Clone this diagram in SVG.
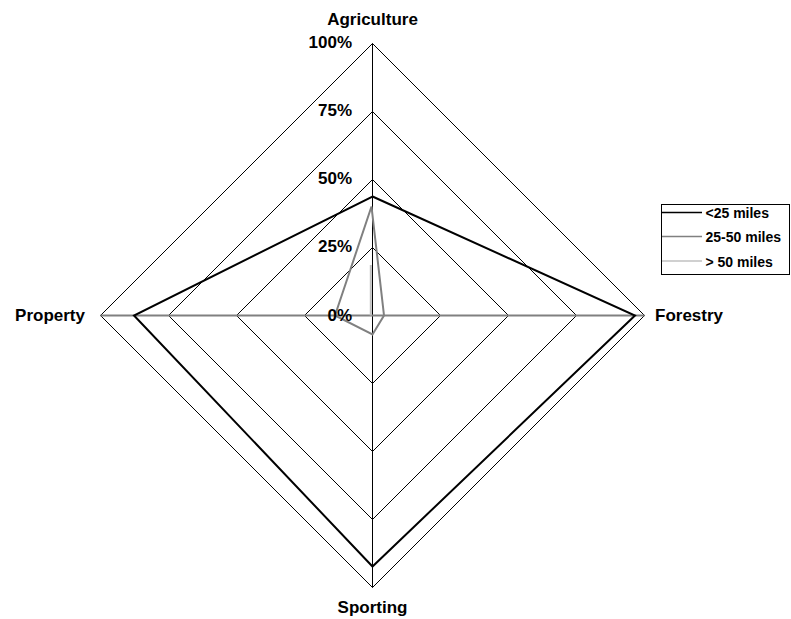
<svg xmlns="http://www.w3.org/2000/svg" width="791" height="619" viewBox="0 0 791 619">
<style>
text{font-family:"Liberation Sans",Arial,sans-serif;font-weight:bold;fill:#000}
.lbl{font-size:17px}
.pct{font-size:17px;text-anchor:end}
.leg{font-size:14px}
.grid{fill:none;stroke:#000;stroke-width:1}
.s1{fill:none;stroke:#000;stroke-width:2;stroke-linejoin:miter}
.s2{fill:none;stroke:#808080;stroke-width:2}
.s3{fill:none;stroke:#c0c0c0;stroke-width:2}
</style>
<rect width="791" height="619" fill="#fff"/>
<g id="grid">
<polygon class="grid" points="372.5,43.5 644.5,315.5 372.5,587.5 100.5,315.5"/>
<polygon class="grid" points="372.5,111.5 576.5,315.5 372.5,519.5 168.5,315.5"/>
<polygon class="grid" points="372.5,179.5 508.5,315.5 372.5,451.5 236.5,315.5"/>
<polygon class="grid" points="372.5,247.5 440.5,315.5 372.5,383.5 304.5,315.5"/>
<line class="grid" x1="372.5" y1="43.5" x2="372.5" y2="587.5"/>
<line x1="100.5" y1="315.5" x2="644.5" y2="315.5" stroke="#808080" stroke-width="2"/>
</g>
<g id="series">
<polygon id="s-lt25" class="s1" points="372.5,196.5 635,315.5 372.5,566.5 134,315.5"/>
<polygon id="s-25-50" class="s2" points="371.5,206.5 384,315.5 372.5,334.5 335,315.5"/>
<polygon id="s-gt50" class="s3" points="370.8,265 370.8,315.5 370.8,315.5 370.8,315.5"/>
</g>
<g id="axis-labels">
<text class="lbl" x="372.5" y="25" text-anchor="middle">Agriculture</text>
<text class="lbl" x="655" y="321">Forestry</text>
<text class="lbl" x="372.5" y="613" text-anchor="middle">Sporting</text>
<text class="lbl" x="85" y="321" text-anchor="end">Property</text>
</g>
<g id="scale-labels">
<text class="pct" x="352" y="48">100%</text>
<text class="pct" x="352" y="116">75%</text>
<text class="pct" x="352" y="184">50%</text>
<text class="pct" x="352" y="252">25%</text>
<text class="pct" x="352" y="321">0%</text>
</g>
<g id="legend">
<rect x="661.5" y="204.5" width="128" height="70" fill="#fff" stroke="#000" stroke-width="1"/>
<line x1="662" y1="212.5" x2="702" y2="212.5" stroke="#000" stroke-width="1.5"/>
<line x1="662" y1="236.5" x2="702" y2="236.5" stroke="#808080" stroke-width="1.5"/>
<line x1="662" y1="261" x2="702" y2="261" stroke="#c0c0c0" stroke-width="1.5"/>
<text class="leg" x="705.5" y="218">&lt;25 miles</text>
<text class="leg" x="705.5" y="242">25-50 miles</text>
<text class="leg" x="705.5" y="267">&gt; 50 miles</text>
</g>
</svg>
